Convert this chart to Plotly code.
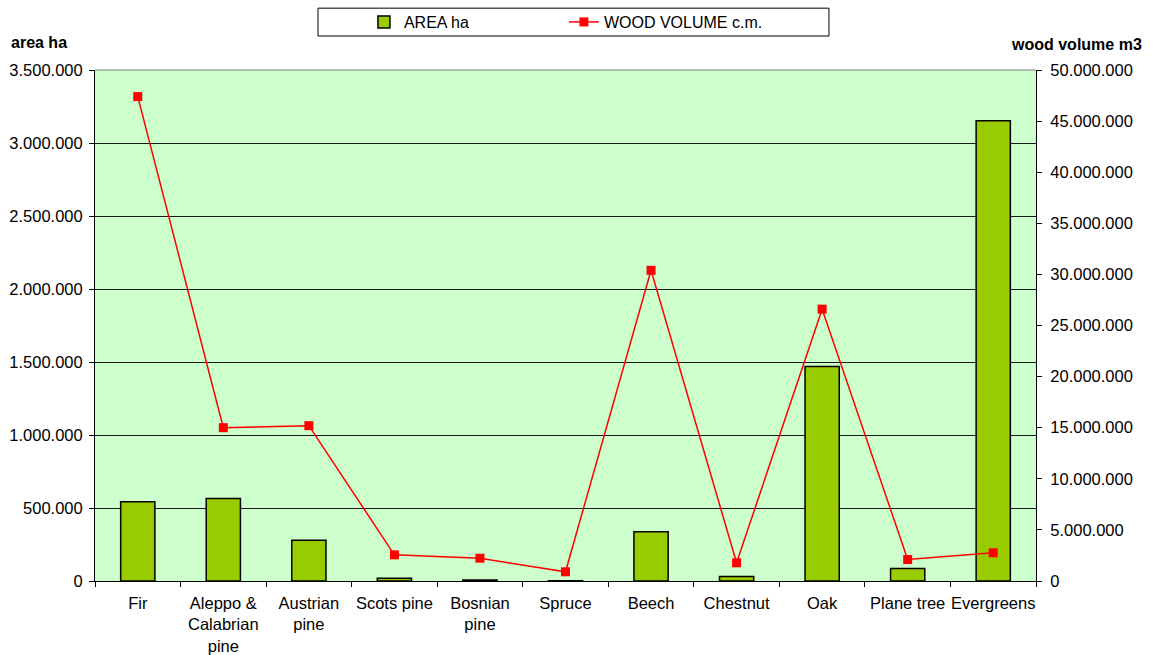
import plotly.graph_objects as go

# Forest species of Greece: area (ha) and growing stock (m3)
species = ["Fir", "Aleppo &<br>Calabrian<br>pine", "Austrian<br>pine", "Scots pine",
           "Bosnian<br>pine", "Spruce", "Beech", "Chestnut", "Oak", "Plane tree", "Evergreens"]
area_ha = [542000, 565000, 279000, 19000, 6000, 2000, 337000, 31000, 1470000, 85000, 3153000]
wood_volume_m3 = [47400000, 15000000, 15200000, 2560000, 2230000, 900000,
                  30400000, 1780000, 26600000, 2100000, 2760000]

area_ticks = list(range(0, 3500001, 500000))
volume_ticks = list(range(0, 50000001, 5000000))

FONT = "Liberation Sans, Arial, sans-serif"
TICK_SIZE = 16.5

fig = go.Figure()
fig.add_trace(go.Bar(
    x=species, y=area_ha, name="AREA ha",
    marker=dict(color="#99CC00", line=dict(color="#000000", width=1.5)),
    yaxis="y",
))
fig.add_trace(go.Scatter(
    x=species, y=wood_volume_m3, name="WOOD VOLUME c.m.",
    mode="lines+markers",
    line=dict(color="#FF0000", width=1.5),
    marker=dict(symbol="square", size=9, color="#FF0000"),
    yaxis="y2",
))

fig.update_layout(
    width=1158, height=655,
    margin=dict(l=95, r=122, t=70, b=74, pad=0),
    paper_bgcolor="#FFFFFF",
    plot_bgcolor="#CCFFCC",
    separators=",.",
    font=dict(family=FONT, size=16, color="#000000"),
    bargap=0.6,
    showlegend=True,
    legend=dict(
        orientation="h", xref="container", yref="container",
        x=0.487, xanchor="center", y=0.9664, yanchor="middle",
        bgcolor="rgba(0,0,0,0)", borderwidth=0,
        font=dict(family=FONT, size=16), entrywidth=155, itemwidth=30,
        traceorder="normal",
    ),
    xaxis=dict(
        type="category", range=[-0.5, len(species) - 0.5],
        showline=True, linecolor="#000000", linewidth=1,
        ticks="outside", ticklen=5, tickcolor="#000000", tickson="boundaries",
        showgrid=False, tickfont=dict(size=TICK_SIZE), tickangle=0,
        ticklabelstandoff=7, automargin=False, fixedrange=True,
    ),
    yaxis=dict(
        range=[0, 3500000], tickvals=area_ticks, tickformat=",d",
        showline=True, linecolor="#000000", linewidth=1,
        ticks="outside", ticklen=5, tickcolor="#000000",
        showgrid=True, gridcolor="#1A1A1A", gridwidth=1, zeroline=False,
        tickfont=dict(size=TICK_SIZE), ticklabelstandoff=3, automargin=False,
    ),
    yaxis2=dict(
        range=[0, 50000000], tickvals=volume_ticks, tickformat=",d",
        overlaying="y", side="right",
        showline=True, linecolor="#000000", linewidth=1,
        ticks="outside", ticklen=5, tickcolor="#000000",
        showgrid=False, zeroline=False, tickfont=dict(size=TICK_SIZE),
        ticklabelstandoff=5, automargin=False,
    ),
    shapes=[
        # top border of the plot area
        dict(type="line", xref="paper", yref="paper", x0=0, x1=1, y0=1, y1=1,
             line=dict(color="#808080", width=1)),
        # legend frame
        dict(type="rect", xref="paper", yref="paper",
             x0=0.237, x1=0.780, y0=1.0665, y1=1.121,
             line=dict(color="#000000", width=1), fillcolor="rgba(0,0,0,0)"),
    ],
    annotations=[
        dict(text="<b>area ha</b>", xref="paper", yref="paper", x=-0.0913, y=1.0535,
             xanchor="left", yanchor="middle", showarrow=False,
             font=dict(family=FONT, size=16)),
        dict(text="<b>wood volume m3</b>", xref="paper", yref="paper", x=1.1148, y=1.0495,
             xanchor="right", yanchor="middle", showarrow=False,
             font=dict(family=FONT, size=16)),
    ],
)

fig.write_html("out.html")
